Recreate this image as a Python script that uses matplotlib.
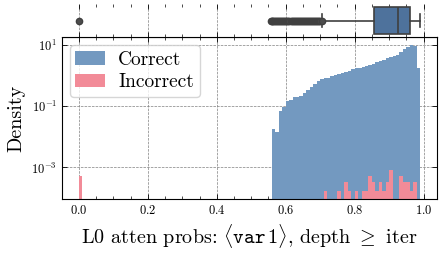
import numpy as np
import matplotlib
matplotlib.use('Agg')
import matplotlib.pyplot as plt
from matplotlib.ticker import MultipleLocator, NullLocator

plt.rcParams['font.family'] = 'serif'
plt.rcParams['font.serif'] = ['cmr10', 'DejaVu Serif']
plt.rcParams['mathtext.fontset'] = 'cm'
plt.rcParams['axes.formatter.use_mathtext'] = True
plt.rcParams['axes.unicode_minus'] = False

# histogram data (bin left edges, bin width 0.01)
correct_bins = [0.56, 0.57, 0.58, 0.59, 0.60, 0.61, 0.62, 0.63, 0.64, 0.65,
                0.66, 0.67, 0.68, 0.69, 0.70, 0.71, 0.72, 0.73, 0.74, 0.75,
                0.76, 0.77, 0.78, 0.79, 0.80, 0.81, 0.82, 0.83, 0.84, 0.85,
                0.86, 0.87, 0.88, 0.89, 0.90, 0.91, 0.92, 0.93, 0.94, 0.95,
                0.96, 0.97, 0.98]
correct_density = [0.018, 0.0147, 0.069, 0.095, 0.149, 0.157, 0.191, 0.196, 0.216, 0.258,
                   0.330, 0.403, 0.505, 0.631, 0.733, 0.789, 0.830, 0.940, 1.06, 1.12,
                   1.21, 1.30, 1.36, 1.58, 1.67, 1.79, 1.93, 2.08, 2.24, 2.42,
                   2.67, 2.95, 3.27, 3.61, 3.98, 4.29, 4.74, 5.64, 7.06, 8.39,
                   10.0, 8.83, 1.67]

incorrect_bins = [0.00, 0.71, 0.75, 0.77, 0.78, 0.80, 0.82, 0.83, 0.84, 0.85,
                  0.86, 0.87, 0.88, 0.89, 0.90, 0.93, 0.94, 0.95, 0.96, 0.97]
incorrect_density = [5.1e-4, 1.7e-4, 1.7e-4, 3.4e-4, 1.7e-4, 1.7e-4, 1.7e-4, 1.7e-4, 5.1e-4, 3.4e-4,
                     1.7e-4, 3.4e-4, 1.7e-4, 3.4e-4, 8.5e-4, 5.1e-4, 3.4e-4, 3.4e-4, 1.7e-4, 3.4e-4]

# box plot summary
box_q1, box_med, box_q3 = 0.856, 0.926, 0.960
box_lo, box_hi = 0.705, 0.991
box_fliers = [0.0, 0.557, 0.559, 0.561, 0.563, 0.566, 0.569, 0.572, 0.575, 0.578,
              0.581, 0.584, 0.587, 0.590, 0.593, 0.596, 0.599, 0.602, 0.605, 0.608,
              0.611, 0.614, 0.617, 0.620, 0.623, 0.626, 0.629, 0.632, 0.635, 0.638,
              0.641, 0.644, 0.647, 0.650, 0.653, 0.656, 0.659, 0.662, 0.665, 0.668,
              0.671, 0.674, 0.677, 0.680, 0.683, 0.686, 0.689, 0.692, 0.695, 0.698,
              0.701, 0.704]

blue = '#7399c0'
pink = '#f28b98'
edges = np.linspace(0, 1, 101)

fig = plt.figure(figsize=(4.42, 2.56), dpi=100)
ax = fig.add_axes([0.140, 0.223, 0.849, 0.632])
axb = fig.add_axes([0.140, 0.855, 0.849, 0.129], sharex=ax)

ax.hist(np.array(correct_bins) + 0.005, bins=edges, weights=correct_density,
        color=blue, label='Correct')
ax.hist(np.array(incorrect_bins) + 0.005, bins=edges, weights=incorrect_density,
        color=pink, label='Incorrect')

ax.set_yscale('log')
ax.set_xlim(-0.0495, 1.0395)
ax.set_ylim(9.5e-5, 17.5)
ax.set_yticks([1e-3, 1e-1, 1e1])
ax.yaxis.set_minor_locator(NullLocator())
ax.xaxis.set_major_locator(MultipleLocator(0.2))
ax.xaxis.set_minor_locator(MultipleLocator(0.05))
ax.tick_params(which='both', direction='in', top=True, right=True, labelsize=9)
ax.tick_params(which='major', length=3.5, width=0.6)
ax.tick_params(which='minor', length=2, width=0.5)
ax.grid(True, which='major', linestyle='--', color='gray', linewidth=0.5)
ax.set_axisbelow(True)
ax.set_ylabel('Density', fontsize=14.5)
ax.set_xlabel(r'L0 atten probs: $\langle\mathtt{var}\,1\rangle$, depth $\geq$ iter', fontsize=14.5)
for s in ax.spines.values():
    s.set_linewidth(0.8)
ax.legend(loc='upper left', fontsize=14, handlelength=1.5, framealpha=0.8,
          edgecolor='0.8', borderpad=0.3, labelspacing=0.25, handletextpad=0.7,
          borderaxespad=0.4)

# box plot on top
stats = [dict(med=box_med, q1=box_q1, q3=box_q3, whislo=box_lo, whishi=box_hi,
              fliers=box_fliers)]
axb.bxp(stats, positions=[0], widths=0.8, vert=False, patch_artist=True,
        boxprops=dict(facecolor='#4e729c', edgecolor='#3f3f3f', linewidth=1.2),
        medianprops=dict(color='#3f3f3f', linewidth=1.2),
        whiskerprops=dict(color='#3f3f3f', linewidth=1.2),
        capprops=dict(color='#3f3f3f', linewidth=1.2),
        flierprops=dict(marker='o', markersize=4.5, markerfacecolor='0.3',
                        markeredgecolor='0.25', linestyle='none'))
axb.set_ylim(-0.5, 0.5)
axb.set_yticks([])
axb.grid(True, axis='x', which='major', linestyle='--', color='gray', linewidth=0.5)
axb.set_axisbelow(True)
for side in ['top', 'left', 'right']:
    axb.spines[side].set_visible(False)
axb.spines['bottom'].set_linewidth(0.8)
axb.tick_params(axis='x', which='both', direction='in', top=True, labelbottom=False)
axb.tick_params(which='major', length=3.5, width=0.6)
axb.tick_params(which='minor', length=2, width=0.5)
axb.tick_params(axis='y', left=False, right=False)

fig.savefig('out.png', dpi=100)
